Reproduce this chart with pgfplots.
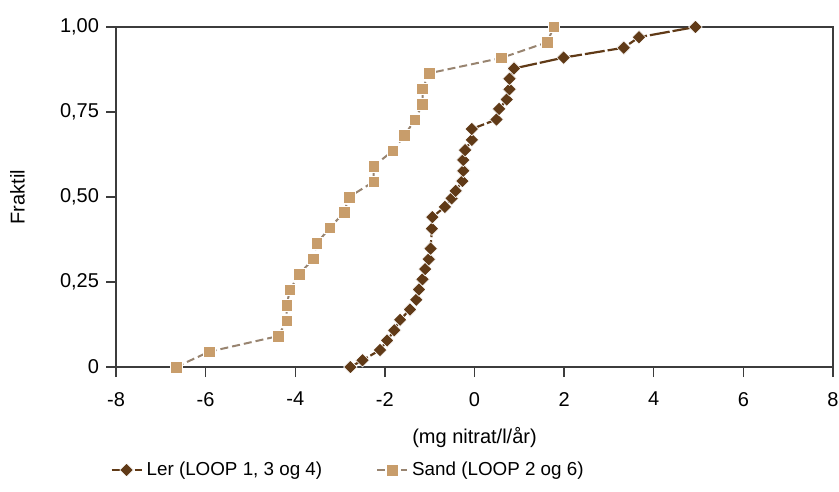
\documentclass[border=0pt]{standalone}
\usepackage{fontspec}
\setmainfont{Liberation Sans}
\usepackage{pgfplots}
\pgfplotsset{compat=1.18}

\definecolor{lercol}{RGB}{96,58,23}
\definecolor{sandfill}{RGB}{200,157,107}
\definecolor{sandline}{RGB}{152,132,112}
\definecolor{axcol}{RGB}{60,60,60}

\newcommand{\chartfont}{\fontsize{10bp}{12bp}\selectfont}
\newcommand{\legfont}{\fontsize{9.4bp}{11bp}\selectfont}

\begin{document}
\begin{tikzpicture}
  \begin{axis}[
      scale only axis,
      width=358.5bp, height=170bp,
      xmin=-8, xmax=8, ymin=0, ymax=1,
      xtick={-8,-6,-4,-2,0,2,4,6,8},
      xticklabels={-8,-6,-4,-2,0,2,4,6,8},
      ytick={0,0.25,0.5,0.75,1},
      yticklabels={0,{0,25},{0,50},{0,75},{1,00}},
      xtick pos=bottom, ytick pos=left,
      tick align=outside,
      major tick length=5bp,
      axis line style={axcol, line width=0.7bp},
      tick style={axcol, line width=0.7bp},
      tick label style={font=\chartfont},
      xticklabel style={yshift=-4bp},
      xlabel={(mg nitrat/l/år)},
      ylabel={Fraktil},
      label style={font=\chartfont},
      xlabel style={at={(axis description cs:0.5,-0.206)}, anchor=center},
      ylabel style={at={(axis description cs:-0.1374,0.5)}, anchor=center},
      clip=false,
      legend style={at={(axis description cs:-0.0166,-0.303)}, anchor=west,
        draw=none, fill=none, font=\legfont, legend columns=-1,
        /tikz/every even column/.append style={column sep=25bp}},
      legend image code/.code={
        \draw[#1] (0bp,0bp) -- (15bp,0bp);
        \draw[#1, only marks] plot coordinates {(7.5bp,0bp)};
      },
    ]
    \addplot[lercol, line width=1.1bp, dash pattern=on 10bp off 1.5bp,
      mark=square*, mark size=2.4bp,
      mark options={solid, rotate=45, fill=lercol, draw=white, line width=0.3bp}]
      coordinates {
        (-2.77,0) (-2.50,0.020) (-2.11,0.050) (-1.95,0.078) (-1.79,0.108)
        (-1.66,0.139) (-1.44,0.169) (-1.30,0.198) (-1.24,0.228) (-1.16,0.258)
        (-1.10,0.288) (-1.02,0.317) (-0.98,0.348) (-0.95,0.407) (-0.94,0.441)
        (-0.66,0.471) (-0.51,0.496) (-0.42,0.518) (-0.27,0.547) (-0.25,0.577)
        (-0.25,0.609) (-0.21,0.638) (-0.06,0.668) (-0.06,0.700) (0.49,0.728)
        (0.55,0.759) (0.72,0.787) (0.78,0.817) (0.78,0.848) (0.88,0.878)
        (1.99,0.910) (3.33,0.939) (3.67,0.970) (4.93,1.000)
      };
    \addplot[sandline, line width=1bp, dash pattern=on 4bp off 2bp,
      mark=square*, mark size=2.9bp,
      mark options={solid, fill=sandfill, draw=white, line width=0.3bp}]
      coordinates {
        (-6.66,0) (-5.92,0.045) (-4.38,0.091) (-4.19,0.136) (-4.19,0.182)
        (-4.12,0.227) (-3.91,0.273) (-3.60,0.318) (-3.52,0.364) (-3.23,0.409)
        (-2.91,0.455) (-2.80,0.500) (-2.25,0.545) (-2.25,0.591) (-1.82,0.636)
        (-1.56,0.682) (-1.33,0.727) (-1.16,0.773) (-1.16,0.818) (-1.01,0.864)
        (0.60,0.909) (1.62,0.955) (1.77,1.000)
      };
    \legend{{Ler (LOOP 1, 3 og 4)}, {Sand (LOOP 2 og 6)}}
    \coordinate (BL) at (rel axis cs:0,0);
    \coordinate (TR) at (rel axis cs:1,1);
  \end{axis}
  \pgfresetboundingbox
  \path[use as bounding box] ([shift={(-58bp,-62bp)}]BL) rectangle ([shift={(3bp,13.5bp)}]TR);
\end{tikzpicture}
\end{document}
